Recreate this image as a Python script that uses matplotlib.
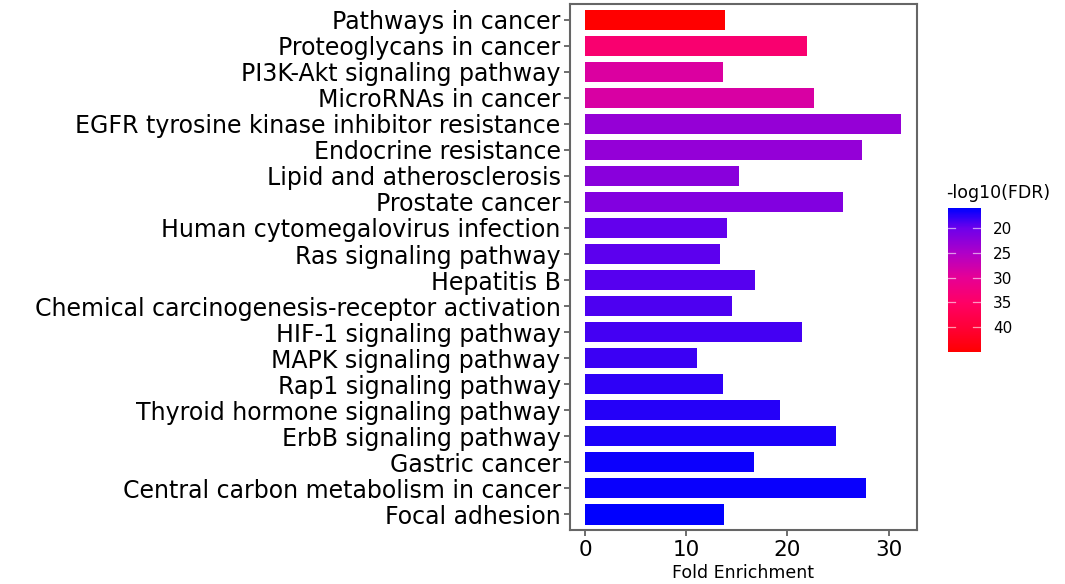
import numpy as np
import matplotlib
matplotlib.use("Agg")
import matplotlib.pyplot as plt
from matplotlib.colors import LinearSegmentedColormap, Normalize
from matplotlib.colorbar import ColorbarBase

plt.rcParams['font.family'] = ['DejaVu Sans']

# ---------- data ----------
pathways = [
    "Pathways in cancer",
    "Proteoglycans in cancer",
    "PI3K-Akt signaling pathway",
    "MicroRNAs in cancer",
    "EGFR tyrosine kinase inhibitor resistance",
    "Endocrine resistance",
    "Lipid and atherosclerosis",
    "Prostate cancer",
    "Human cytomegalovirus infection",
    "Ras signaling pathway",
    "Hepatitis B",
    "Chemical carcinogenesis-receptor activation",
    "HIF-1 signaling pathway",
    "MAPK signaling pathway",
    "Rap1 signaling pathway",
    "Thyroid hormone signaling pathway",
    "ErbB signaling pathway",
    "Gastric cancer",
    "Central carbon metabolism in cancer",
    "Focal adhesion",
]
fold_enrichment = [13.8, 21.9, 13.6, 22.6, 31.2, 27.4, 15.2, 25.5, 14.0, 13.3,
                   16.8, 14.5, 21.4, 11.1, 13.6, 19.3, 24.8, 16.7, 27.8, 13.7]
neg_log_fdr = [45.0, 34.0, 29.0, 28.6, 23.1, 23.0, 22.2, 21.6, 19.7, 19.5,
               19.2, 18.9, 18.5, 18.2, 17.8, 17.4, 17.1, 16.5, 16.4, 16.0]
cbar_ticks = [20, 25, 30, 35, 40]

# colour ramp sampled off the legend bar (low -> high)
ramp_colors = [(0.00, "#0000ff"), (0.14, "#6e00eb"), (0.31, "#af00c8"),
               (0.48, "#e60096"), (0.66, "#ff0064"), (0.83, "#ff0037"),
               (1.00, "#ff0000")]
cmap = LinearSegmentedColormap.from_list("fdr", ramp_colors)
norm = Normalize(vmin=min(neg_log_fdr), vmax=max(neg_log_fdr))

# ---------- plot ----------
fig = plt.figure(figsize=(10.65, 5.84), dpi=100)
ax = fig.add_axes([0.535, 0.0925, 0.326, 0.9005])

y = np.arange(len(pathways))
ax.barh(y, fold_enrichment, height=0.78, color=cmap(norm(neg_log_fdr)))
ax.set_ylim(len(pathways) - 0.4, -0.6)
ax.set_xlim(-1.5, 32.8)
ax.set_yticks(y)
ax.set_yticklabels(pathways, fontsize=17)
ax.set_xticks([0, 10, 20, 30])
ax.tick_params(axis='x', labelsize=15.5, length=4, width=1.2, color='#555555', pad=3)
ax.tick_params(axis='y', length=4.5, width=1.2, color='#555555', pad=2)
ax.set_xlabel("Fold Enrichment", fontsize=12.5, labelpad=3)
for s in ax.spines.values():
    s.set_color('#666666')
    s.set_linewidth(1.5)

# colorbar (reversed: low/blue on top)
cax = fig.add_axes([0.890, 0.397, 0.0307, 0.2466])
cb = ColorbarBase(cax, cmap=cmap, norm=norm, orientation='vertical')
cax.invert_yaxis()
cb.set_ticks(cbar_ticks)
cb.outline.set_visible(False)
cax.tick_params(labelsize=11, length=0, pad=9)
for t in cbar_ticks:
    cax.plot([0, 0.22], [t, t], color='white', lw=0.9, alpha=0.6)
    cax.plot([0.78, 1], [t, t], color='white', lw=0.9, alpha=0.6)
cax.set_xlim(0, 1)
fig.text(0.888, 0.661, "-log10(FDR)", fontsize=12.5, ha='left', va='baseline')

fig.savefig("out.png", dpi=100)
